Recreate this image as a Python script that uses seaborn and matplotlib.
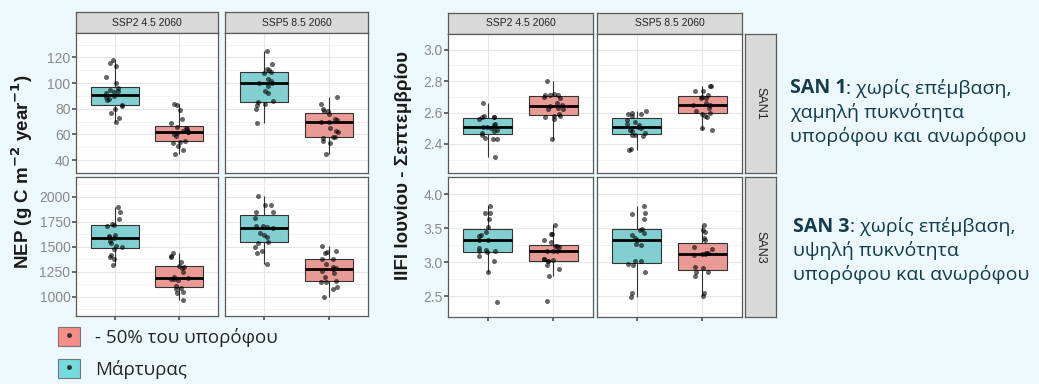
import numpy as np
import pandas as pd
import seaborn as sns
import matplotlib.pyplot as plt
from matplotlib.patches import Patch
from matplotlib.lines import Line2D

# categories
scenarios = ["SSP2 4.5 2060", "SSP5 8.5 2060"]
stands = ["SAN1", "SAN3"]
treatments = ["Μάρτυρας", "- 50% του υπορόφου"]

# NEP (g C m-2 year-1), SAN1 row
nep_san1_ssp2_control = [70, 73, 77, 80, 82, 83, 87, 88, 89, 90, 92, 93, 94, 95, 96, 100, 105, 113, 116, 118]
nep_san1_ssp2_reduced = [45, 48, 51, 53, 54, 55, 59, 60, 61, 62, 62, 63, 64, 65, 66, 69, 72, 79, 83, 84]
nep_san1_ssp5_control = [69, 80, 83, 84, 85, 86, 92, 94, 98, 100, 100, 102, 103, 108, 109, 110, 111, 115, 125]
nep_san1_ssp5_reduced = [45, 53, 55, 57, 58, 58, 62, 63, 65, 70, 70, 71, 72, 76, 78, 78, 80, 84, 89]
# NEP, SAN3 row
nep_san3_ssp2_control = [1320, 1380, 1400, 1420, 1480, 1500, 1510, 1540, 1560, 1590, 1600, 1610, 1620, 1710, 1720, 1730, 1780, 1850, 1900]
nep_san3_ssp2_reduced = [970, 1040, 1050, 1080, 1090, 1105, 1170, 1175, 1180, 1182, 1195, 1250, 1290, 1300, 1305, 1350, 1400, 1410, 1440]
nep_san3_ssp5_control = [1330, 1440, 1460, 1500, 1540, 1550, 1600, 1620, 1640, 1700, 1690, 1705, 1710, 1790, 1850, 1850, 1920, 1920, 2010]
nep_san3_ssp5_reduced = [1000, 1080, 1100, 1150, 1150, 1160, 1200, 1240, 1260, 1280, 1290, 1300, 1330, 1375, 1382, 1440, 1450, 1460, 1510]
# IIFI June - September, SAN1 row
iifi_san1_ssp2_control = [2.32, 2.43, 2.43, 2.44, 2.46, 2.47, 2.48, 2.49, 2.50, 2.505, 2.51, 2.52, 2.53, 2.56, 2.57, 2.57, 2.57, 2.58, 2.66]
iifi_san1_ssp2_reduced = [2.43, 2.56, 2.57, 2.58, 2.58, 2.59, 2.62, 2.62, 2.63, 2.64, 2.65, 2.66, 2.69, 2.70, 2.71, 2.71, 2.71, 2.72, 2.80]
iifi_san1_ssp5_control = [2.36, 2.37, 2.45, 2.46, 2.46, 2.47, 2.48, 2.49, 2.50, 2.51, 2.52, 2.53, 2.54, 2.55, 2.58, 2.59, 2.59, 2.60, 2.61]
iifi_san1_ssp5_reduced = [2.49, 2.50, 2.57, 2.58, 2.59, 2.60, 2.61, 2.63, 2.645, 2.65, 2.66, 2.69, 2.695, 2.70, 2.71, 2.74, 2.74, 2.77, 2.77]
# IIFI, SAN3 row
iifi_san3_ssp2_control = [2.42, 2.85, 3.01, 3.09, 3.15, 3.16, 3.17, 3.18, 3.21, 3.32, 3.33, 3.38, 3.40, 3.45, 3.51, 3.63, 3.72, 3.72, 3.83]
iifi_san3_ssp2_reduced = [2.43, 2.80, 2.90, 2.96, 3.01, 3.02, 3.03, 3.04, 3.05, 3.16, 3.17, 3.17, 3.22, 3.23, 3.24, 3.30, 3.33, 3.42, 3.42, 3.54]
iifi_san3_ssp5_control = [2.49, 2.55, 2.86, 2.96, 2.97, 3.01, 3.02, 3.25, 3.26, 3.33, 3.36, 3.40, 3.43, 3.47, 3.49, 3.63, 3.70, 3.72, 3.83]
iifi_san3_ssp5_reduced = [2.50, 2.54, 2.80, 2.85, 2.86, 2.92, 2.93, 3.10, 3.12, 3.12, 3.13, 3.14, 3.20, 3.22, 3.33, 3.36, 3.45, 3.47, 3.54]

# right-hand notes
note_san1 = ["SAN 1", ": χωρίς επέμβαση,", "χαμηλή πυκνότητα", "υπορόφου και ανωρόφου"]
note_san3 = ["SAN 3", ": χωρίς επέμβαση,", "υψηλή πυκνότητα", "υπορόφου και ανωρόφου"]

series = {
    ("NEP", "SAN1", scenarios[0]): (nep_san1_ssp2_control, nep_san1_ssp2_reduced),
    ("NEP", "SAN1", scenarios[1]): (nep_san1_ssp5_control, nep_san1_ssp5_reduced),
    ("NEP", "SAN3", scenarios[0]): (nep_san3_ssp2_control, nep_san3_ssp2_reduced),
    ("NEP", "SAN3", scenarios[1]): (nep_san3_ssp5_control, nep_san3_ssp5_reduced),
    ("IIFI", "SAN1", scenarios[0]): (iifi_san1_ssp2_control, iifi_san1_ssp2_reduced),
    ("IIFI", "SAN1", scenarios[1]): (iifi_san1_ssp5_control, iifi_san1_ssp5_reduced),
    ("IIFI", "SAN3", scenarios[0]): (iifi_san3_ssp2_control, iifi_san3_ssp2_reduced),
    ("IIFI", "SAN3", scenarios[1]): (iifi_san3_ssp5_control, iifi_san3_ssp5_reduced),
}
rows = []
for (metric, stand, scen), (ctrl, red) in series.items():
    rows += [(metric, stand, scen, treatments[0], v) for v in ctrl]
    rows += [(metric, stand, scen, treatments[1], v) for v in red]
df = pd.DataFrame(rows, columns=["metric", "stand", "scenario", "treatment", "value"])

sns.set_theme(style="white")
plt.rcParams["font.family"] = ["Liberation Sans", "DejaVu Sans"]
np.random.seed(3)

W, H = 1039, 384
fig = plt.figure(figsize=(W / 100, H / 100), dpi=100)
fig.patch.set_facecolor("#EDF8FC")

def px(x0, y0, x1, y1):
    return [x0 / W, 1 - y1 / H, (x1 - x0) / W, (y1 - y0) / H]

box_colors = {treatments[0]: "#74DCDE", treatments[1]: "#F78D87"}
edge = "#5A5A5A"
note_font = ["Open Sans", "DejaVu Sans"]

limits = {
    ("NEP", "SAN1"): ((31.5, 139), [40, 60, 80, 100, 120]),
    ("NEP", "SAN3"): ((805, 2200), [1000, 1250, 1500, 1750, 2000]),
    ("IIFI", "SAN1"): ((2.215, 3.08), [2.4, 2.6, 2.8, 3.0]),
    ("IIFI", "SAN3"): ((2.195, 4.12), [2.5, 3.0, 3.5, 4.0]),
}

layouts = {
    "NEP": dict(cols=[(76, 218), (225, 368)], strip=(12, 33), rows=[(33, 173), (177, 316)], rowstrip=None),
    "IIFI": dict(cols=[(448, 593), (597, 742)], strip=(13, 34), rows=[(34, 173), (177, 317)], rowstrip=(745, 776)),
}

for metric, lay in layouts.items():
    for ci, (x0, x1) in enumerate(lay["cols"]):
        # column strip
        sax = fig.add_axes(px(x0, lay["strip"][0], x1, lay["strip"][1]))
        sax.set_facecolor("#D9D9D9")
        sax.set_xticks([]); sax.set_yticks([])
        for s in sax.spines.values():
            s.set_color(edge); s.set_linewidth(0.9)
        sax.text(0.5, 0.5, scenarios[ci], ha="center", va="center", fontsize=7.5, color="#222222")
        for ri, (y0, y1) in enumerate(lay["rows"]):
            stand = stands[ri]
            ax = fig.add_axes(px(x0, y0, x1, y1))
            sub = df[(df.metric == metric) & (df.stand == stand) & (df.scenario == scenarios[ci])]
            sns.boxplot(data=sub, x="treatment", y="value", hue="treatment", order=treatments,
                        hue_order=treatments, palette=box_colors, width=0.75, showcaps=False,
                        showfliers=False, linewidth=0.8, linecolor="#333333", legend=False,
                        medianprops=dict(color="black", linewidth=2.0), ax=ax)
            sns.stripplot(data=sub, x="treatment", y="value", order=treatments, color="black",
                          alpha=0.6, size=3.6, jitter=0.15, ax=ax)
            (lo, hi), ticks = limits[(metric, stand)]
            ax.set_ylim(lo, hi)
            ax.set_xlim(-0.6, 1.6)
            ax.set_yticks(ticks)
            step = ticks[1] - ticks[0]
            ax.set_yticks([t - step / 2 for t in ticks] + [ticks[-1] + step / 2], minor=True)
            ax.set_facecolor("white")
            ax.set_axisbelow(True)
            ax.grid(True, which="major", color="#E6E6E6", linewidth=0.8)
            ax.grid(True, which="minor", axis="y", color="#F1F1F1", linewidth=0.6)
            ax.set_xlabel(""); ax.set_ylabel("")
            ax.set_xticks([0, 1]); ax.set_xticklabels([])
            ax.tick_params(axis="x", length=3, color="#555555", bottom=(ri == 1))
            ax.tick_params(axis="y", which="minor", length=0)
            if ci == 0:
                ax.tick_params(axis="y", length=3, color="#555555", labelsize=10, labelcolor="#8A8A8A", left=True, pad=1)
            else:
                ax.tick_params(axis="y", length=0, labelleft=False)
            for s in ax.spines.values():
                s.set_color(edge); s.set_linewidth(0.9)
            if lay["rowstrip"] is not None and ci == 1:
                rax = fig.add_axes(px(lay["rowstrip"][0], y0, lay["rowstrip"][1], y1))
                rax.set_facecolor("#D9D9D9")
                rax.set_xticks([]); rax.set_yticks([])
                for s in rax.spines.values():
                    s.set_color(edge); s.set_linewidth(0.9)
                rax.text(0.5, 0.5, stand, ha="center", va="center", rotation=-90, fontsize=9, color="#222222")

# axis titles
fig.text(22 / W, 1 - 172 / H, "NEP (g C m$^{\\mathbf{-2}}$ year$^{\\mathbf{-1}}$)", rotation=90, ha="center",
         va="center", fontsize=13.5, weight="bold", color="#1A1A1A")
fig.text(404 / W, 1 - 165 / H, "IIFI Ιουνίου - Σεπτεμβρίου", rotation=90, ha="center", va="center",
         fontsize=13.5, weight="bold", color="#1A1A1A")

# notes on the right
fig.canvas.draw()
r = fig.canvas.get_renderer()
note_color = "#133B4A"
for note, x, y in [(note_san1, 790, 88), (note_san3, 793, 227)]:
    t = fig.text(x / W, 1 - y / H, note[0], fontsize=14, weight="bold", color=note_color,
                 va="center", family=note_font)
    w = t.get_window_extent(r).width
    fig.text((x + w) / W, 1 - y / H, note[1], fontsize=14, color=note_color, va="center",
             family=note_font)
    for k, line in enumerate(note[2:]):
        fig.text(x / W, 1 - (y + 24 * (k + 1)) / H, line, fontsize=14, color=note_color, va="center",
                 family=note_font)

# legend
handles = [
    (Patch(facecolor=box_colors[treatments[1]], edgecolor="#777777", linewidth=0.8),
     Line2D([0], [0], color="#333333", marker="o", markersize=2.5, linestyle="none")),
    (Patch(facecolor=box_colors[treatments[0]], edgecolor="#777777", linewidth=0.8),
     Line2D([0], [0], color="#333333", marker="o", markersize=2.5, linestyle="none")),
]
fig.legend(handles, [treatments[1], treatments[0]], loc="upper left",
           bbox_to_anchor=(41 / W, 1 - 310 / H), frameon=False,
           handlelength=1.2, handleheight=1.2, labelspacing=0.65, handletextpad=0.8,
           prop={"family": note_font, "size": 13.5})

fig.savefig("out.png", dpi=100, facecolor=fig.get_facecolor())
